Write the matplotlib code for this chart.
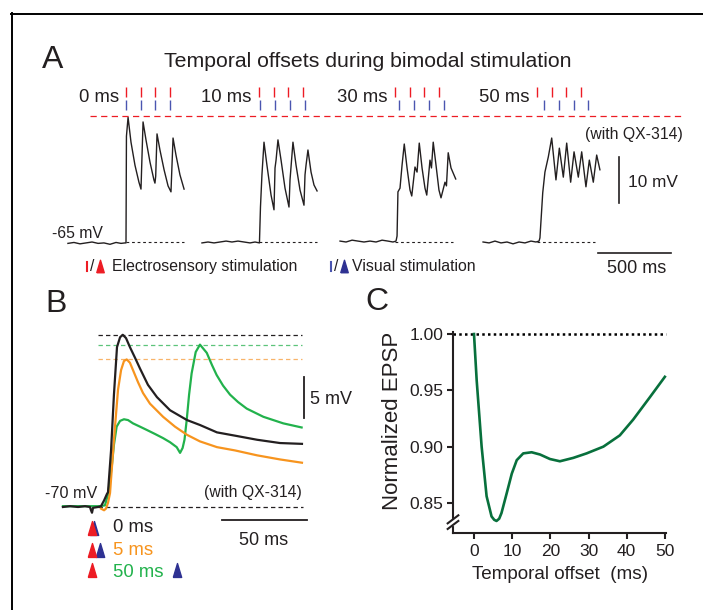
import matplotlib
matplotlib.use('Agg')
import matplotlib.pyplot as plt
from matplotlib.lines import Line2D
import numpy as np

plt.rcParams['font.family'] = ['Liberation Sans', 'DejaVu Sans']

# ======================= DATA =======================
# ---- Panel A: membrane potential (mV) vs time (ms) from first electrosensory stimulus
offsets_A = [0, 10, 30, 50]
offset_labels_A = ['0 ms', '10 ms', '30 ms', '50 ms']
stim_times_A = [0, 100, 200, 300]

t_A0 = [-395, -354, -313, -272, -231, -190, -150, -109, -68, -34, -7, 0, 3, 14, 34, 61, 88, 102,
        116, 136, 163, 190, 197, 202, 211, 231, 259, 286, 306, 320, 340, 367, 395]
v_A0 = [-65.3, -65.1, -65.4, -65.2, -65.0, -65.3, -65.2, -65.5, -65.1, -65.3, -65.2, -65.2, -42.0,
        -37.9, -43.3, -48.3, -52.0, -53.5, -38.9, -42.8, -47.6, -51.5, -52.2, -50.7, -41.5, -45.0,
        -49.3, -52.8, -54.1, -42.4, -46.1, -50.4, -53.5]

t_A10 = [-388, -347, -306, -265, -224, -184, -143, -102, -61, -27, 3, 10, 20, 34, 54, 82, 102,
         109, 116, 129, 150, 177, 204, 211, 231, 252, 279, 306, 313, 320, 333, 354, 374, 395]
v_A10 = [-65.2, -65.0, -65.2, -65.0, -64.8, -65.0, -64.8, -65.0, -65.2, -65.0, -65.2, -57.4, -50.4,
         -43.3, -48.3, -54.8, -58.0, -48.9, -47.2, -42.8, -47.2, -53.3, -57.4, -51.5, -43.3, -48.3,
         -53.7, -57.0, -50.4, -48.3, -45.0, -49.8, -52.6, -53.9]

t_A30 = [-374, -333, -292, -252, -211, -170, -129, -88, -48, -14, 7, 14, 20, 34, 48, 63, 82, 102,
         114, 136, 150, 165, 184, 204, 216, 238, 248, 260, 279, 299, 313, 340, 350, 362, 381, 413]
v_A30 = [-64.8, -65.0, -64.6, -64.8, -65.0, -64.8, -65.0, -64.6, -64.8, -65.0, -64.8, -63.7, -54.1,
         -53.3, -48.3, -43.7, -48.9, -53.7, -55.0, -48.7, -49.8, -43.5, -48.9, -53.3, -54.8, -47.2,
         -48.9, -43.3, -48.3, -53.7, -55.4, -52.0, -52.8, -45.6, -48.9, -51.3]

t_A50 = [-367, -326, -286, -245, -204, -163, -122, -82, -41, -7, 14, 20, 39, 54, 77, 100, 129, 152,
         179, 202, 229, 252, 281, 304, 333, 356, 383, 406, 428]
v_A50 = [-65.0, -65.2, -64.8, -65.2, -65.0, -65.4, -65.0, -65.2, -64.8, -65.0, -64.8, -64.1, -54.3,
         -49.8, -46.5, -42.4, -51.5, -44.6, -50.9, -43.5, -52.0, -45.4, -50.9, -45.4, -53.0, -47.2,
         -52.0, -46.1, -49.3]

traces_A = [(t_A0, v_A0), (t_A10, v_A10), (t_A30, v_A30), (t_A50, v_A50)]

# ---- Panel B: averaged EPSPs (mV) vs time (ms) from electrosensory stimulus
t_B_black = [-16.8, -12.6, -7.9, -3.8, -0.9, -0.3, 0.3, 0.9, 3.8, 5.6, 7.4, 9.1, 9.7, 11.5, 13.2,
             15.0, 16.8, 18.4, 20.3, 22.6, 25.6, 28.5, 33.2, 38.5, 46.2, 56.2, 63.8, 73.8, 84.4,
             97.4, 110.9, 123.8]
v_B_black = [-70.0, -69.9, -70.0, -69.9, -70.0, -70.4, -70.7, -70.1, -70.0, -69.9, -69.2, -68.4,
             -68.2, -63.1, -56.3, -50.5, -49.3, -49.0, -49.4, -50.5, -51.8, -53.1, -55.1, -56.6,
             -58.2, -59.4, -60.0, -60.9, -61.3, -61.8, -62.2, -62.3]

t_B_orange = [5.6, 7.4, 8.5, 9.7, 10.9, 13.2, 15.6, 17.4, 19.1, 20.7, 22.6, 24.4, 27.4, 30.3, 34.4,
              42.1, 49.1, 56.2, 63.8, 73.8, 84.4, 97.4, 110.9, 123.8]
v_B_orange = [-70.2, -70.4, -70.2, -69.5, -68.3, -61.8, -55.7, -53.3, -52.2, -52.0, -52.4, -53.3,
              -54.8, -56.1, -57.4, -59.0, -60.2, -61.2, -62.0, -62.7, -63.1, -63.7, -64.2, -64.6]

t_B_green = [-16.8, -12.6, -7.9, -3.8, -0.9, 2.1, 5.0, 7.9, 9.7, 11.9, 13.2, 14.8, 16.8, 19.1, 21.5,
             24.4, 28.5, 32.5, 37.4, 42.1, 46.2, 50.1, 52.1, 53.6, 54.7, 56.0, 57.4, 58.9, 61.3,
             63.8, 67.8, 70.9, 73.6, 77.4, 81.5, 86.2, 91.3, 96.2, 101.1, 112.8, 123.6]
v_B_green = [-69.9, -69.9, -69.9, -69.9, -69.9, -69.9, -69.9, -69.8, -68.5, -65.1, -62.4, -60.2,
             -59.5, -59.3, -59.4, -59.8, -60.2, -60.6, -61.1, -61.6, -62.1, -62.7, -63.4, -62.8,
             -61.8, -59.4, -56.3, -53.7, -51.1, -50.2, -51.2, -52.7, -53.9, -55.2, -56.3, -57.2,
             -58.0, -58.5, -59.0, -59.8, -60.3]

offsets_B = [0, 5, 50]
offset_labels_B = ['0 ms', '5 ms', '50 ms']

# ---- Panel C: normalized EPSP vs temporal offset
offset_C = [0, 0.7, 2.0, 3.3, 4.6, 5.3, 5.9, 6.6, 7.2, 8.6, 9.9, 11.2, 12.9, 15.1, 17.3, 19.9, 22.5,
            26.0, 29.5, 33.9, 38.2, 41.7, 46.1, 50]
epsp_C = [1.00, 0.959, 0.900, 0.856, 0.838, 0.835, 0.834, 0.836, 0.841, 0.859, 0.876, 0.888, 0.894,
          0.895, 0.893, 0.889, 0.887, 0.890, 0.894, 0.900, 0.910, 0.924, 0.944, 0.962]

# ======================= STYLE =======================
W, H = 703, 610
K = '#231f20'
RED = '#ed1c24'
BLUE = '#2e3192'
BLUE_T = '#4a55b0'
ORANGE = '#f7941e'
GREEN = '#22b24c'
DGREEN = '#08703c'

fig = plt.figure(figsize=(W / 100, H / 100), dpi=100)
fig.patch.set_facecolor('white')


def fx(px):
    return px / W


def fy(py):
    return 1 - py / H


def ftext(px, py, s, size, ha='left', color=K, **kw):
    fig.text(fx(px), fy(py), s, fontsize=size, ha=ha, va='baseline', color=color, **kw)


# frame lines (top and left)
fig.add_artist(Line2D([fx(11), fx(703)], [fy(14), fy(14)], color='black', lw=1.4,
                      transform=fig.transFigure))
fig.add_artist(Line2D([fx(12), fx(12)], [fy(13.3), fy(610)], color='black', lw=1.4,
                      transform=fig.transFigure))

TRI = [(-0.3, -0.5), (0.3, -0.5), (0.0, 0.5), (-0.3, -0.5)]

# ======================= PANEL A =======================
PXMS_A = 0.147   # px per ms
PXMV_A = 4.6     # px per mV
BASE_PY_A = 242
axA = fig.add_axes([0, 0, 1, 1])
axA.set_xlim(0, W / PXMS_A)
axA.set_ylim(-65 - (H - BASE_PY_A) / PXMV_A, -65 + BASE_PY_A / PXMV_A)
axA.axis('off')

trace_pos_A = np.array([126, 259, 395, 537]) / PXMS_A
peak_A = max(v_A0)
for (t, v), x0, off, lab in zip(traces_A, trace_pos_A, offsets_A, offset_labels_A):
    axA.plot(np.array(t) + x0, v, color=K, lw=1.0, solid_joinstyle='round')
    axA.plot([x0, x0 + 395], [-65, -65], color=K, lw=0.8, ls=(0, (2.5, 2.5)))
    st = np.array(stim_times_A) + x0
    axA.vlines(st, -33.5, -31.3, color=RED, lw=1.0)
    axA.vlines(st + off, -36.3, -34.1, color=BLUE_T, lw=1.0)
    axA.text(x0 - 50, -34.67, lab, fontsize=13.3, ha='right', va='baseline', color=K)

axA.plot([90 / PXMS_A, 683 / PXMS_A], [peak_A + 0.2, peak_A + 0.2], color=RED, lw=0.9,
         ls=(0, (5, 3.5)))

# scale bars A
axA.plot([619 / PXMS_A, 619 / PXMS_A], [-56.5, -46.5], color=K, lw=1.2)
axA.plot([4065, 4565], [-67.4, -67.4], color=K, lw=1.2)

ftext(42, 68, 'A', 23)
ftext(368, 67, 'Temporal offsets during bimodal stimulation', 15.3, ha='center')
ftext(683, 139, '(with QX-314)', 11.3, ha='right')
ftext(52, 238, '-65 mV', 11.3)
ftext(628, 187, '10 mV', 12.4)
ftext(637, 273, '500 ms', 13, ha='center')

# legend of panel A
fig.add_artist(Line2D([fx(87), fx(87)], [fy(262), fy(271)], color=RED, lw=1.5,
                      transform=fig.transFigure))
ftext(89.5, 271, '/', 11.3)
fig.add_artist(Line2D([fx(100)], [fy(266)], marker=TRI, ms=9, color=RED, mec=RED, ls='none',
                      transform=fig.transFigure))
ftext(112, 271, 'Electrosensory stimulation', 11.4)
fig.add_artist(Line2D([fx(331), fx(331)], [fy(262), fy(271)], color=BLUE_T, lw=1.5,
                      transform=fig.transFigure))
ftext(333.5, 271, '/', 11.3)
fig.add_artist(Line2D([fx(343.5)], [fy(266)], marker=TRI, ms=9, color=BLUE, mec=BLUE, ls='none',
                      transform=fig.transFigure))
ftext(352, 271, 'Visual stimulation', 11.4)

# ======================= PANEL B =======================
PXMS_B = 1.7
PXMV_B = 8.2
X0_B = 91.5
BASE_PY_B = 507
axB = fig.add_axes([0, 0, 1, 1])
axB.set_xlim(-X0_B / PXMS_B, (W - X0_B) / PXMS_B)
axB.set_ylim(-70 - (H - BASE_PY_B) / PXMV_B, -70 + BASE_PY_B / PXMV_B)
axB.axis('off')

series_B = [(t_B_green, v_B_green, GREEN, '#5cc47a'),
            (t_B_orange, v_B_orange, ORANGE, '#f8b46a'),
            (t_B_black, v_B_black, K, K)]
for t, v, c, dc in series_B:
    axB.plot([3.8, 123.8], [max(v), max(v)], color=dc, lw=0.9, ls=(0, (3.5, 2.5)))
axB.plot([3.8, 124.5], [-70, -70], color=K, lw=0.9, ls=(0, (3.5, 2.5)))
for t, v, c, dc in series_B:
    axB.plot(t, v, color=c, lw=1.6, solid_joinstyle='round')

# scale bars B
axB.plot([125, 125], [-59.15, -54.15], color=K, lw=1.3)
axB.plot([76.8, 126.8], [-71.6, -71.6], color=K, lw=1.3)

# stimulus markers B
row_v_B = [-72.55, -75.2, -77.7]
for off, lab, rv, col in zip(offsets_B, offset_labels_B, row_v_B, [K, ORANGE, GREEN]):
    shift = 1.3 if off == 0 else 0
    axB.plot([off + shift], [rv], marker=TRI, ms=10, color=BLUE, mec=BLUE, ls='none')
    axB.plot([0], [rv], marker=TRI, ms=10, color=RED, mec=RED, ls='none')
ftext(113, 532, '0 ms', 13.3, color=K)
ftext(113, 555, '5 ms', 13.3, color=ORANGE)
ftext(113, 577, '50 ms', 13.3, color=GREEN)

ftext(45, 312, 'B', 23)
ftext(45, 498, '-70 mV', 11.6)
ftext(302, 497, '(with QX-314)', 11.3, ha='right')
ftext(310, 404, '5 mV', 13)
ftext(264, 545, '50 ms', 13, ha='center')

# ======================= PANEL C =======================
axC = fig.add_axes([fx(453), fy(533), (666 - 453) / W, (533 - 332) / H])
axC.set_xlim(-5.5, 50.3)
axC.set_ylim(0.8233, 1.0018)
axC.plot([-5.5, 50.3], [1.0, 1.0], color='black', lw=1.8, ls=(0, (1, 1.3)), clip_on=False)
axC.plot(offset_C, epsp_C, color=DGREEN, lw=1.9, clip_on=False, solid_joinstyle='round')
for s in ['top', 'right']:
    axC.spines[s].set_visible(False)
for s in ['left', 'bottom']:
    axC.spines[s].set_linewidth(1.5)
    axC.spines[s].set_color(K)
axC.set_xticks([0, 10, 20, 30, 40, 50])
axC.set_yticks([0.85, 0.90, 0.95, 1.00])
axC.set_yticklabels(['0.85', '0.90', '0.95', '1.00'])
axC.tick_params(direction='out', length=4, width=1.5, labelsize=12.5, color=K, labelcolor=K)
axC.tick_params(axis='x', pad=4)
axC.tick_params(axis='y', pad=3)
axC.set_xlabel('Temporal offset  (ms)', fontsize=13.6, color=K, labelpad=5)
axC.set_ylabel('Normalized EPSP', fontsize=16, color=K)
axC.yaxis.set_label_coords(-0.235, 0.56)
# axis break marks
axC.plot([0, 0], [0.045, 0.06], color='white', lw=3, transform=axC.transAxes, clip_on=False,
         zorder=5)
for yb in [0.04, 0.068]:
    axC.plot([-0.025, 0.025], [yb - 0.02, yb + 0.02], color=K, lw=1.5, transform=axC.transAxes,
             clip_on=False, zorder=6)
ftext(365, 310, 'C', 23)

fig.savefig('out.png', dpi=100, facecolor='white')
